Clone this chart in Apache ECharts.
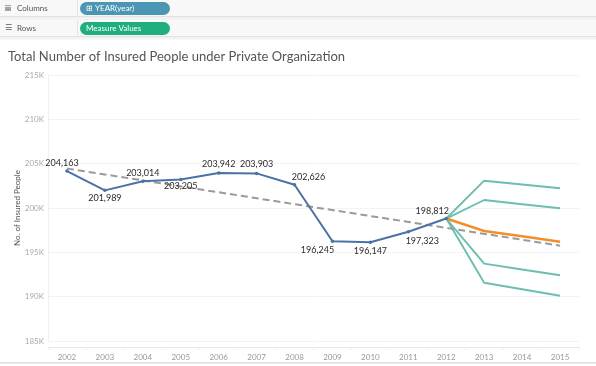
<!DOCTYPE html>
<html><head><meta charset="utf-8">
<script src="https://cdn.jsdelivr.net/npm/echarts@6/dist/echarts.min.js"></script>
<style>html,body{margin:0;padding:0;background:#fff}#c{width:596px;height:366px}</style>
</head><body><div id="c"></div>
<script>
const years = ['2002','2003','2004','2005','2006','2007','2008','2009','2010','2011','2012','2013','2014','2015'];
const actual = [204163, 201989, 203014, 203205, 203942, 203903, 202626, 196245, 196147, 197323, 198812, null, null, null];
const forecast = [null, null, null, null, null, null, null, null, null, null, 198812, 197405, 196810, 196200];
const upperOuter = [null, null, null, null, null, null, null, null, null, null, 198812, 203080, 202650, 202220];
const upperInner = [null, null, null, null, null, null, null, null, null, null, 198812, 200900, 200430, 199965];
const lowerInner = [null, null, null, null, null, null, null, null, null, null, 198812, 193720, 193060, 192410];
const lowerOuter = [null, null, null, null, null, null, null, null, null, null, 198812, 191575, 190840, 190110];
const trend = [204450, null, null, null, null, null, null, null, null, null, null, null, null, 195750];
const yTicks = ['185K','190K','195K','200K','205K','210K','215K'];

// label offsets (style only)
const labelOffsets = [[-5,-8],[0,8],[0,-8],[0,7],[0,-9],[0,-9],[14,-8],[-15,9],[0,9],[14,9],[-14,-7]];

const chart = echarts.init(document.getElementById('c'), null, {renderer:'canvas'});
const FONT = 'Lato, "Noto Sans", sans-serif';
const teal = '#6dbdb1';
function band(d){
  return {type:'line', data:d, symbol:'none', lineStyle:{color:teal, width:1.9}, z:2, silent:true};
}
const option = {
  animation:false,
  grid:{left:48, right:17, top:75, bottom:25},
  xAxis:{type:'category', data:years, boundaryGap:true, offset:6,
    axisLine:{lineStyle:{color:'#e8e8e8'}},
    axisTick:{show:true, lineStyle:{color:'#eeeeee'}, length:3},
    axisLabel:{color:'#999', fontSize:8, fontFamily:FONT, margin:6}},
  yAxis:{type:'value', min:185000, max:215000, interval:5000,
    name:'No. of Insured People', nameLocation:'middle', nameGap:27, nameMoveOverlap:false,
    nameTextStyle:{color:'#555', fontSize:8, fontFamily:FONT},
    axisLine:{show:true, lineStyle:{color:'#f0f0f0'}},
    axisTick:{show:false},
    splitLine:{lineStyle:{color:'#f3f3f3'}},
    axisLabel:{color:'#aaa', fontSize:8, fontFamily:FONT, margin:4,
      formatter:(v)=>yTicks[Math.round((v-185000)/5000)]}},
  series:[
    band(upperOuter), band(upperInner), band(lowerInner), band(lowerOuter),
    {type:'line', data:forecast, symbol:'none', lineStyle:{color:'#f28e2b', width:2.5}, z:3},
    {type:'line', data:trend, connectNulls:true, symbol:'none', lineStyle:{color:'#9a9a9a', width:2, type:[7,4]}, z:4},
    {type:'line', data:actual.map((v,i)=> v==null? null : {value:v, label:{offset:labelOffsets[i]}}),
      symbol:'circle', symbolSize:3.5, itemStyle:{color:'#4a72a6'}, lineStyle:{color:'#4a72a6', width:2}, z:5,
      label:{show:true, position:'inside', fontSize:9, color:'#2a2a2a', fontFamily:FONT,
        formatter:(p)=>p.value.toLocaleString('en-US')}}
  ],
  graphic:[
    {type:'rect', shape:{x:0,y:0,width:596,height:16}, style:{fill:'#f8f8f8'}},
    {type:'rect', shape:{x:0,y:16,width:596,height:1.5}, style:{fill:'#e2e2e2'}},
    {type:'rect', shape:{x:0,y:17.5,width:596,height:2.5}, style:{fill:'#f3f3f3'}},
    {type:'rect', shape:{x:0,y:20,width:596,height:16}, style:{fill:'#f8f8f8'}},
    {type:'rect', shape:{x:0,y:36,width:596,height:1.5}, style:{fill:'#e2e2e2'}},
    {type:'rect', shape:{x:0,y:37.5,width:596,height:2}, style:{fill:'#f3f3f3'}},
    {type:'rect', shape:{x:77,y:0,width:1,height:16}, style:{fill:'#e4e4e4'}},
    {type:'rect', shape:{x:77,y:20,width:1,height:16}, style:{fill:'#e4e4e4'}},
    {type:'text', x:5, y:8, style:{text:'iii', fill:'#555', font:'bold 8px '+FONT, verticalAlign:'middle'}},
    {type:'text', x:17, y:8, style:{text:'Columns', fill:'#555', font:'8px '+FONT, verticalAlign:'middle'}},
    {type:'text', x:5, y:28, style:{text:'☰', fill:'#555', font:'8px "DejaVu Sans"', verticalAlign:'middle'}},
    {type:'text', x:17, y:28, style:{text:'Rows', fill:'#555', font:'8px '+FONT, verticalAlign:'middle'}},
    {type:'rect', shape:{x:80,y:2,width:90,height:13,r:6.5}, style:{fill:'#4b96b3'}},
    {type:'text', x:86, y:8.5, style:{text:'⊞ YEAR(year)', fill:'#fff', font:'8px '+FONT, verticalAlign:'middle'}},
    {type:'rect', shape:{x:80,y:22,width:90,height:13,r:6.5}, style:{fill:'#1fae7d'}},
    {type:'text', x:86, y:28.5, style:{text:'Measure Values', fill:'#fff', font:'8px '+FONT, verticalAlign:'middle'}},
    {type:'text', x:8, y:57, style:{text:'Total Number of Insured People under Private Organization', fill:'#555', font:'13px '+FONT, verticalAlign:'middle'}},
    {type:'rect', shape:{x:0,y:362,width:596,height:1.5}, style:{fill:'#dddddd'}}
  ]
};
chart.setOption(option);
</script></body></html>
